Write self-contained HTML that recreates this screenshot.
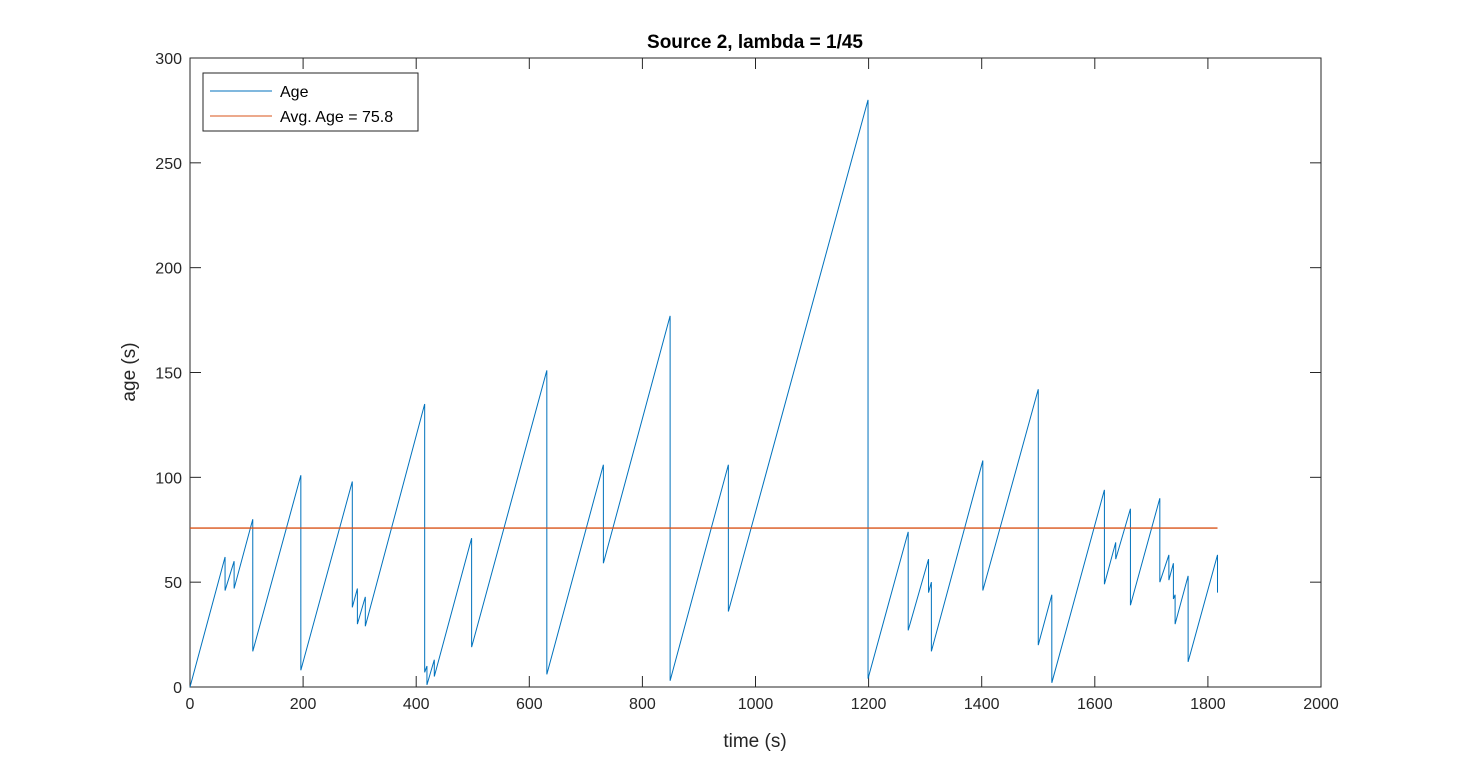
<!DOCTYPE html>
<html><head><meta charset="utf-8"><style>
html,body{margin:0;padding:0;background:#fff;}
svg{display:block;font-family:"Liberation Sans",Arial,sans-serif;}
</style></head><body>
<svg id="chart" width="1461" height="772" viewBox="0 0 1461 772" xmlns="http://www.w3.org/2000/svg">
<rect x="0" y="0" width="1461" height="772" fill="#fff"/>
<text x="755" y="48" text-anchor="middle" font-size="19" font-weight="bold" fill="#000">Source 2, lambda = 1/45</text>
<g id="axes"></g>
<g id="series"></g>
<g id="legend">
<rect x="203" y="73" width="215" height="58" fill="#fff" stroke="#262626" stroke-width="1"/>
<line x1="210" y1="91" x2="272" y2="91" stroke="#0072BD" stroke-width="1"/>
<text x="280" y="97" font-size="16" fill="#000">Age</text>
<line x1="210" y1="116" x2="272" y2="116" stroke="#D95319" stroke-width="1"/>
<text x="280" y="122" font-size="16" fill="#000">Avg. Age = 75.8</text>
</g>
<text x="755" y="747" text-anchor="middle" font-size="19" fill="#262626">time (s)</text>
<text transform="translate(135,372) rotate(-90)" text-anchor="middle" font-size="19" fill="#262626">age (s)</text>
</svg>
<script>
const xTicks = [0,200,400,600,800,1000,1200,1400,1600,1800,2000];
const yTicks = [0,50,100,150,200,250,300];
const timeValues = [0,62,62,78,78,111,111,196,196,287,287,296,296,310,310,415,415,419,419,432,432,498,498,631,631,731,731,849,849,952,952,1199,1199,1270,1270,1306,1306,1311,1311,1402,1402,1500,1500,1524,1524,1617,1617,1637,1637,1663,1663,1715,1715,1731,1731,1739,1739,1742,1742,1765,1765,1817,1817];
const ageValues = [0,62,46,60,47,80,17,101,8,98,38,47,30,43,29,135,7,10,1,13,5,71,19,151,6,106,59,177,3,106,36,280,4,74,27,61,45,50,17,108,46,142,20,44,2,94,49,69,61,85,39,90,50,63,51,59,42,44,30,53,12,63,45];
const avgAge = 75.8;
const avgRange = [0,1817];

const NS="http://www.w3.org/2000/svg";
const X0=190,X1=1321,Y0=687,Y1=58;
const xs=v=>X0+(v-0)/(2000-0)*(X1-X0);
const ys=v=>Y0-(v-0)/(300-0)*(Y0-Y1);
function mk(tag,attrs,parent){const e=document.createElementNS(NS,tag);for(const k in attrs)e.setAttribute(k,attrs[k]);parent.appendChild(e);return e;}
const axes=document.getElementById('axes');
const box=mk('rect',{x:X0,y:Y1,width:X1-X0,height:Y0-Y1,fill:'none',stroke:'#262626','stroke-width':1},axes);


xTicks.forEach(t=>{
  const x=xs(t);
  mk('line',{x1:x,y1:Y0,x2:x,y2:Y0-11,stroke:'#262626'},axes);
  mk('line',{x1:x,y1:Y1,x2:x,y2:Y1+11,stroke:'#262626'},axes);
  const tx=mk('text',{x:x,y:Y0+22,'text-anchor':'middle','font-size':16,fill:'#262626'},axes);
  tx.textContent=t;
  
  
});
yTicks.forEach(t=>{
  const y=ys(t);
  mk('line',{x1:X0,y1:y,x2:X0+11,y2:y,stroke:'#262626'},axes);
  mk('line',{x1:X1,y1:y,x2:X1-11,y2:y,stroke:'#262626'},axes);
  const tx=mk('text',{x:X0-8,y:y+6,'text-anchor':'end','font-size':16,fill:'#262626'},axes);
  tx.textContent=t;
  
  
});
const series=document.getElementById('series');
const pts=timeValues.map((t,i)=>xs(t).toFixed(2)+','+ys(ageValues[i]).toFixed(2)).join(' ');
const ln=mk('polyline',{points:pts,fill:'none',stroke:'#0072BD','stroke-width':1},series);


const av=mk('line',{x1:xs(avgRange[0]),y1:ys(avgAge),x2:xs(avgRange[1]),y2:ys(avgAge),stroke:'#D95319','stroke-width':1.3},series);


</script>
</body></html>
